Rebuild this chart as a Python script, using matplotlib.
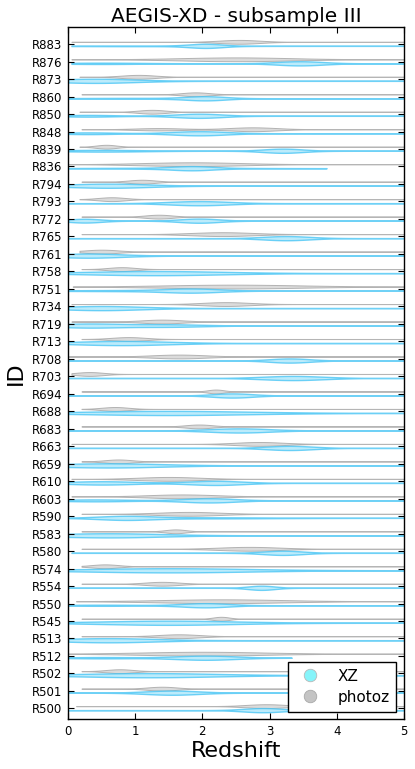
import numpy as np
import matplotlib
matplotlib.use("Agg")
import matplotlib.pyplot as plt
from matplotlib.lines import Line2D

# Source IDs, bottom to top
ids = ["R500", "R501", "R502", "R512", "R513", "R545", "R550", "R554", "R574",
       "R580", "R583", "R590", "R603", "R610", "R659", "R663", "R683", "R688",
       "R694", "R703", "R708", "R713", "R719", "R734", "R751", "R758", "R761",
       "R765", "R772", "R793", "R794", "R836", "R839", "R848", "R850", "R860",
       "R873", "R876", "R883"]

# photoz distributions: (range min, range max) and peaks (mu, sigma, weight)
photoz_range = [(0.12, 5), (0.2, 5), (0.2, 5), (0.0, 5), (0.2, 5), (0.2, 5), (0.12, 5), (0.2, 5), (0.2, 5),
                (0.2, 5), (0.2, 5), (0.2, 5), (0.05, 5), (0.05, 5), (0.2, 5), (0.05, 5), (0.2, 5), (0.2, 5),
                (0.2, 5), (0.05, 5), (0.0, 5), (0.2, 5), (0.05, 5), (0.05, 5), (0.07, 5), (0.2, 5), (0.17, 5),
                (0.2, 5), (0.2, 5), (0.17, 5), (0.2, 5), (0.0, 5), (0.17, 5), (0.2, 5), (0.17, 5), (0.2, 5),
                (0.17, 5), (0.05, 5), (0.05, 5)]
photoz_peaks = [
    [(2.95, 0.3, 1.0)],                      # R500
    [(1.4, 0.22, 1.0)],                      # R501
    [(0.77, 0.2, 1.0)],                      # R502
    [(2.0, 0.9, 1.0)],                       # R512
    [(1.65, 0.3, 1.0)],                      # R513
    [(2.28, 0.12, 1.0)],                     # R545
    [(2.3, 0.9, 1.0)],                       # R550
    [(1.4, 0.25, 1.0)],                      # R554
    [(0.55, 0.2, 1.0)],                      # R574
    [(2.7, 0.45, 1.0)],                      # R580
    [(1.6, 0.15, 1.0)],                      # R583
    [(1.8, 0.45, 1.0)],                      # R590
    [(1.7, 0.5, 1.0)],                       # R603
    [(1.5, 0.45, 1.0)],                      # R610
    [(0.75, 0.2, 1.0)],                      # R659
    [(2.85, 0.35, 1.0)],                     # R663
    [(1.95, 0.2, 1.0)],                      # R683
    [(0.7, 0.2, 1.0)],                       # R688
    [(2.2, 0.12, 1.0)],                      # R694
    [(0.32, 0.2, 1.0)],                      # R703
    [(1.65, 0.4, 1.0)],                      # R708
    [(0.9, 0.25, 1.0)],                      # R713
    [(1.4, 0.3, 1.0)],                       # R719
    [(2.35, 0.35, 1.0)],                     # R734
    [(2.45, 1.0, 1.0)],                      # R751
    [(0.8, 0.2, 1.0)],                       # R758
    [(0.5, 0.25, 1.0), (2.2, 0.3, 0.12)],    # R761
    [(2.3, 0.45, 1.0)],                      # R765
    [(1.35, 0.2, 1.0)],                      # R772
    [(0.65, 0.2, 1.0)],                      # R793
    [(1.1, 0.2, 1.0)],                       # R794
    [(1.85, 0.7, 1.0)],                      # R836
    [(0.57, 0.15, 1.0)],                     # R839
    [(1.35, 0.35, 0.6), (2.75, 0.35, 1.0)],  # R848
    [(1.25, 0.2, 1.0)],                      # R850
    [(1.9, 0.2, 1.0)],                       # R860
    [(1.05, 0.25, 1.0)],                     # R873
    [(2.5, 0.8, 1.0)],                       # R876
    [(2.55, 0.3, 1.0)],                      # R883
]

# XZ distributions
xz_range = [(0, 5), (0, 5), (0, 5), (0, 3.33), (0, 5), (0, 5), (0, 5), (0, 5), (0, 5),
            (0.05, 5), (0, 5), (0, 5), (0, 5), (0, 5), (0, 5), (0, 5), (0, 5), (0, 5),
            (0, 5), (0, 5), (0, 5), (0, 5), (0, 5), (0, 5), (0, 5), (0, 5), (0, 5),
            (0, 5), (0, 5), (0, 5), (0, 5), (0, 3.85), (0, 5), (0, 5), (0, 5), (0, 5),
            (0, 5), (0.05, 5), (0.05, 5)]
xz_peaks = [
    [(2.9, 0.3, 1.0)],                       # R500
    [(1.55, 0.4, 1.0)],                      # R501
    [(1.2, 1.0, 1.0)],                       # R502
    [(2.05, 0.45, 1.0), (0.5, 0.5, 0.3)],    # R512
    [(0.6, 0.7, 1.0)],                       # R513
    [(1.5, 1.0, 1.0)],                       # R545
    [(2.05, 0.35, 1.0), (0.5, 0.6, 0.25)],   # R550
    [(2.88, 0.2, 1.0)],                      # R554
    [(1.5, 1.2, 1.0)],                       # R574
    [(3.2, 0.3, 1.0)],                       # R580
    [(0.6, 0.8, 1.0)],                       # R583
    [(0.85, 0.4, 1.0), (2.0, 1.0, 0.3)],     # R590
    [(2.1, 0.4, 1.0), (0.4, 0.5, 0.45)],     # R603
    [(0.5, 0.5, 0.8), (2.2, 0.4, 1.0)],      # R610
    [(0.6, 0.8, 1.0)],                       # R659
    [(3.3, 0.35, 1.0)],                      # R663
    [(2.55, 0.45, 1.0)],                     # R683
    [(1.5, 1.2, 1.0)],                       # R688
    [(2.45, 0.3, 1.0)],                      # R694
    [(3.35, 0.45, 1.0)],                     # R703
    [(3.3, 0.3, 1.0)],                       # R708
    [(0.8, 0.7, 1.0)],                       # R713
    [(0.3, 0.5, 1.0), (1.5, 0.5, 0.6)],      # R719
    [(0.5, 0.6, 1.0)],                       # R734
    [(1.85, 0.4, 1.0), (1.0, 1.0, 0.3)],     # R751
    [(1.3, 1.0, 1.0)],                       # R758
    [(0.3, 0.5, 1.0)],                       # R761
    [(3.25, 0.35, 1.0)],                     # R765
    [(0.25, 0.25, 0.9), (1.95, 0.3, 1.0)],   # R772
    [(1.95, 0.45, 1.0)],                     # R793
    [(0.6, 0.6, 1.0)],                       # R794
    [(1.85, 0.3, 1.0), (1.5, 1.0, 0.3)],     # R836
    [(3.2, 0.3, 1.0), (0.5, 0.6, 0.4)],      # R839
    [(1.95, 0.4, 1.0), (0.3, 0.4, 0.4)],     # R848
    [(1.95, 0.35, 1.0), (0.3, 0.4, 0.4)],    # R850
    [(2.05, 0.3, 1.0), (1.0, 0.8, 0.2)],     # R860
    [(0.4, 0.6, 1.0)],                       # R873
    [(3.45, 0.35, 1.0), (0.5, 0.6, 0.3)],    # R876
    [(2.05, 0.25, 1.0), (1.0, 1.0, 0.15)],   # R883
]

x_ticks = [0, 1, 2, 3, 4, 5]


def make_stats(rng, peaks, floor=0.03):
    lo, hi = rng
    coords = np.linspace(lo, hi, 400)
    vals = np.full_like(coords, floor)
    for mu, s, w in peaks:
        vals = vals + w * np.exp(-0.5 * ((coords - mu) / s) ** 2)
    return dict(coords=coords, vals=vals, mean=np.mean(coords),
                median=np.median(coords), min=lo, max=hi)


plt.rcParams['font.family'] = ['DejaVu Sans']
fig = plt.figure(figsize=(4.15, 7.69), dpi=100)
ax = fig.add_axes([0.164, 0.0647, 0.809, 0.900])

pos = np.arange(len(ids))
ph_stats = [make_stats(r, p) for r, p in zip(photoz_range, photoz_peaks)]
xz_stats = [make_stats(r, p) for r, p in zip(xz_range, xz_peaks)]

vp = ax.violin(ph_stats, positions=pos + 0.13, vert=False, widths=0.22,
               showmeans=False, showextrema=False)
for b in vp['bodies']:
    b.set_facecolor('#d2d2d2')
    b.set_edgecolor('#a4a4a4')
    b.set_alpha(0.8)
    b.set_linewidth(0.7)

vx = ax.violin(xz_stats, positions=pos - 0.10, vert=False, widths=0.24,
               showmeans=False, showextrema=False)
for b in vx['bodies']:
    b.set_facecolor('#a6e5fa')
    b.set_edgecolor('#42c3f4')
    b.set_alpha(0.75)
    b.set_linewidth(1.0)

ax.set_xlim(0, 5)
ax.set_ylim(-0.62, len(ids) - 1 + 0.97)
ax.set_xticks(x_ticks)
ax.set_yticks(pos)
ax.set_yticklabels(ids)
ax.tick_params(axis='both', direction='in', top=True, right=True,
               length=4, width=0.8, labelsize=8.5, pad=4)
for sp in ax.spines.values():
    sp.set_linewidth(1.0)

ax.set_title("AEGIS-XD - subsample III", fontsize=14.5, pad=4)
ax.set_xlabel("Redshift", fontsize=16, labelpad=2)
ax.set_ylabel("ID", fontsize=16, labelpad=4)

handles = [
    Line2D([], [], marker='o', linestyle='none', markersize=9,
           markerfacecolor='#86f4fa', markeredgecolor='#b8b8b8', markeredgewidth=0.6),
    Line2D([], [], marker='o', linestyle='none', markersize=9,
           markerfacecolor='#c4c4c4', markeredgecolor='#a8a8a8', markeredgewidth=0.6),
]
leg = ax.legend(handles, ["XZ", "photoz"], loc='lower right', fontsize=11,
                fancybox=False, framealpha=1, edgecolor='black',
                borderaxespad=0.5, handletextpad=0.8, labelspacing=0.4,
                borderpad=0.45)
leg.get_frame().set_linewidth(1.0)

fig.savefig("out.png", dpi=100)
